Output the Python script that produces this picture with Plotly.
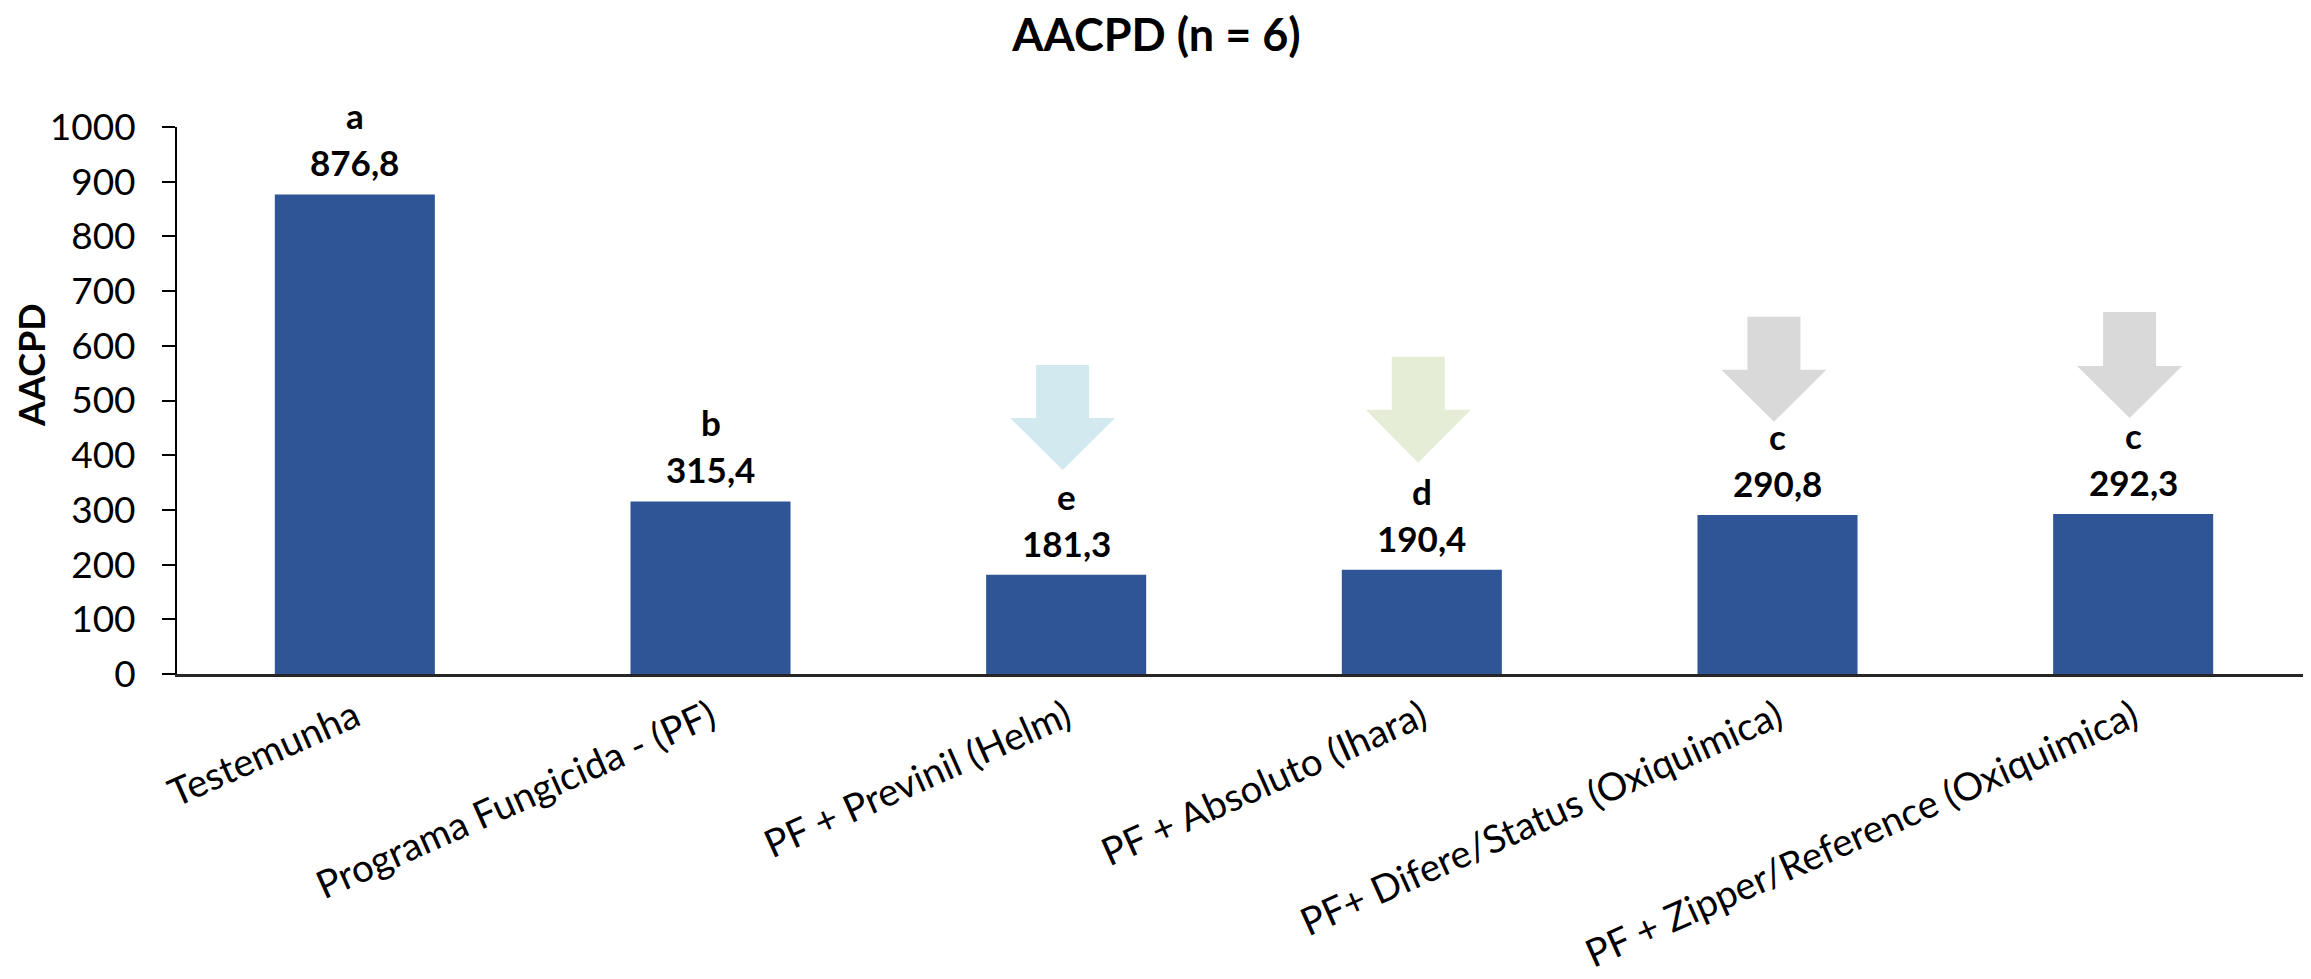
import plotly.graph_objects as go

categories = [
    "Testemunha",
    "Programa Fungicida - (PF)",
    "PF + Previnil (Helm)",
    "PF + Absoluto (Ihara)",
    "PF+ Difere/Status (Oxiquimica)",
    "PF + Zipper/Reference (Oxiquimica)",
]
values = [876.8, 315.4, 181.3, 190.4, 290.8, 292.3]
value_labels = ["876,8", "315,4", "181,3", "190,4", "290,8", "292,3"]
letters = ["a", "b", "e", "d", "c", "c"]

y_ticks = [0, 100, 200, 300, 400, 500, 600, 700, 800, 900, 1000]

# decorative arrows above bars (category index, shaft top, head top, tip) in data units
arrow_idx = [2, 3, 4, 5]
arrow_top = [565, 580, 653, 662]
arrow_head = [468, 483, 556, 563]
arrow_tip = [373, 386, 461, 468]
arrow_colors = ["#D3E9F0", "#E5EDD6", "#D9D9D9", "#D9D9D9"]

FONT = "Lato"
BAR_COLOR = "#2F5597"

# page body has an 8px margin; compensate so the drawing lands where intended
OFF = 8
W, H = 2311 - OFF, 979 - OFF
plot_left = 177 - OFF
plot_top = 127 - OFF
plot_h = 547
plot_w = W - plot_left

x_pos = list(range(len(categories)))

fig = go.Figure()

fig.add_trace(go.Bar(
    x=x_pos,
    y=values,
    width=0.45,
    marker=dict(color=BAR_COLOR, line=dict(width=0)),
    hoverinfo="skip",
    showlegend=False,
))

shaft_hw = 0.0745
head_hw = 0.1476
for i, top, head, tip, col in zip(arrow_idx, arrow_top, arrow_head, arrow_tip, arrow_colors):
    cx = i - 0.01
    xs = [cx - shaft_hw, cx + shaft_hw, cx + shaft_hw, cx + head_hw, cx, cx - head_hw, cx - shaft_hw, cx - shaft_hw]
    ys = [top, top, head, head, tip, head, head, top]
    fig.add_trace(go.Scatter(
        x=xs, y=ys, mode="lines", fill="toself", fillcolor=col,
        line=dict(width=0, color=col), hoverinfo="skip", showlegend=False,
    ))

annotations = []
for xi, v, vl, lt in zip(x_pos, values, value_labels, letters):
    annotations.append(dict(
        x=xi, y=v, xref="x", yref="y", text=f"<b>{vl}</b>", showarrow=False,
        yanchor="middle", yshift=32, font=dict(family=FONT, size=35, color="black"),
    ))
    annotations.append(dict(
        x=xi, y=v, xref="x", yref="y", text=f"<b>{lt}</b>", showarrow=False,
        yanchor="middle", yshift=79, font=dict(family=FONT, size=35, color="black"),
    ))

annotations.append(dict(
    x=(31 - 177) / plot_w, xref="paper", y=(674 - 365) / plot_h, yref="paper",
    text="<b>AACPD</b>", showarrow=False,
    textangle=-90, font=dict(family=FONT, size=36, color="black"),
    xanchor="center", yanchor="middle",
))

fig.update_layout(
    width=W,
    height=H,
    margin=dict(l=plot_left, r=0, t=plot_top, b=H - plot_top - plot_h, pad=0, autoexpand=False),
    paper_bgcolor="white",
    plot_bgcolor="white",
    font=dict(family=FONT, size=36, color="black"),
    title=dict(
        text="<b>AACPD (n = 6)</b>",
        x=(1156.5 - OFF) / W, xref="container", xanchor="center",
        y=1 - (35 - OFF) / H, yref="container", yanchor="middle",
        font=dict(family=FONT, size=45, color="black"),
    ),
    annotations=annotations,
    xaxis=dict(
        tickmode="array",
        tickvals=x_pos,
        ticktext=categories,
        tickangle=-24,
        range=[-0.5, 5.5],
        showline=True,
        linecolor="#262626",
        linewidth=2.5,
        ticks="",
        showgrid=False,
        zeroline=False,
        automargin=False,
        tickfont=dict(family=FONT, size=38.5, color="black"),
        ticklabelstandoff=3,
    ),
    yaxis=dict(
        range=[0, 1000],
        tickmode="array",
        tickvals=y_ticks,
        ticktext=[str(t) for t in y_ticks],
        showline=True,
        linecolor="black",
        linewidth=2,
        ticks="outside",
        ticklen=13,
        tickwidth=2,
        tickcolor="black",
        showgrid=False,
        zeroline=False,
        automargin=False,
        tickfont=dict(family=FONT, size=37, color="black"),
        ticklabelstandoff=19,
    ),
)

fig.write_html("out.html")
